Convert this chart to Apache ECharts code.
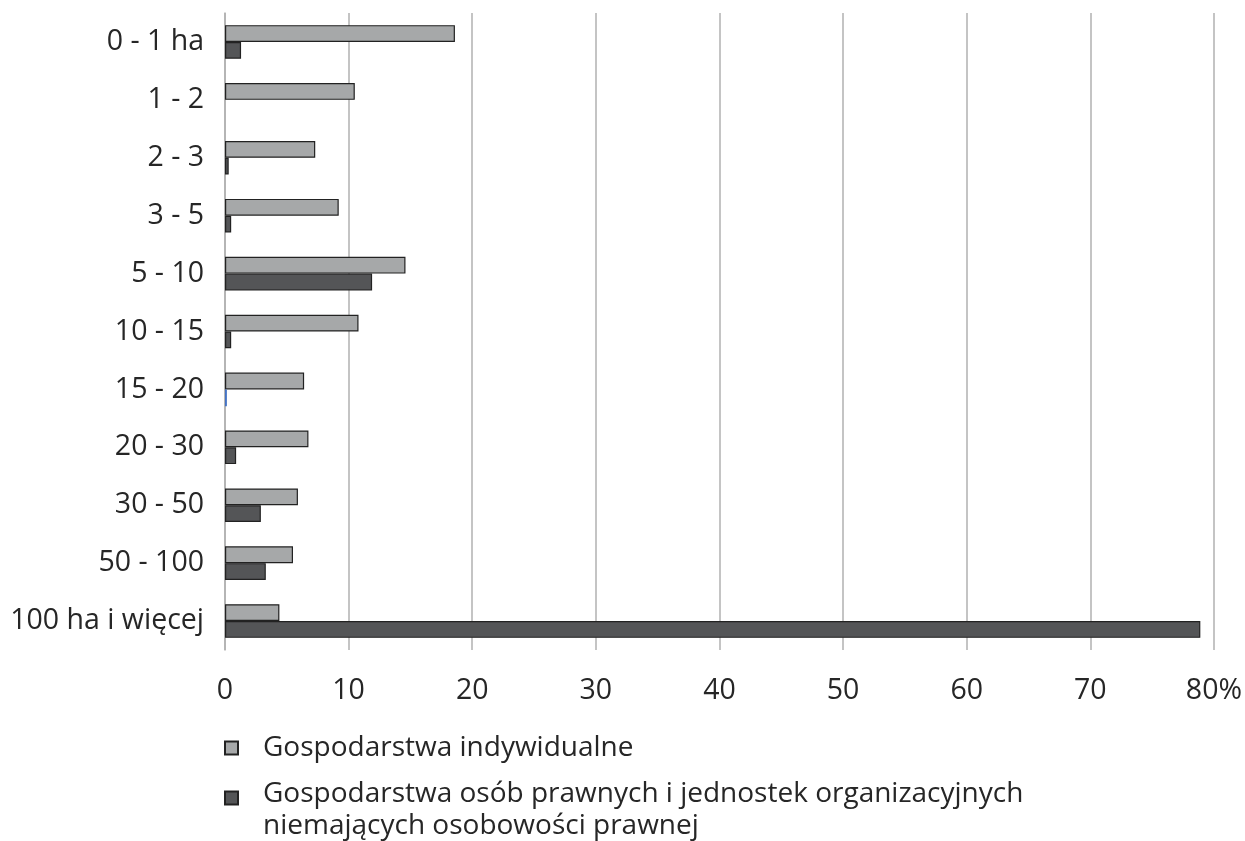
<!DOCTYPE html>
<html><head><meta charset="utf-8">
<script src="https://cdn.jsdelivr.net/npm/echarts@6/dist/echarts.min.js"></script>
<style>html,body{margin:0;padding:0;background:#fff}#c{width:1245px;height:841px}</style>
</head><body><div id="c"></div>
<script>
const categories = ['0 - 1 ha','1 - 2','2 - 3','3 - 5','5 - 10','10 - 15','15 - 20','20 - 30','30 - 50','50 - 100','100 ha i więcej'];
const seriesNames = ['Gospodarstwa indywidualne','Gospodarstwa osób prawnych i jednostek organizacyjnych niemających osobowości prawnej'];
const indywidualne = [18.6,10.5,7.3,9.2,14.6,10.8,6.4,6.75,5.9,5.5,4.4];
const prawne = [1.3,0,0.3,0.5,11.9,0.5,0.15,0.9,2.9,3.3,78.9];
const xTicks = [0,10,20,30,40,50,60,70,80];

const chart = echarts.init(document.getElementById('c'));
const font = 'Open Sans';
const fs = 28.5;
const lfs = 28;
chart.setOption({
  animation:false,
  textStyle:{fontFamily:font},
  grid:{left:225,right:29,top:13,bottom:191,containLabel:false},
  legend:[
    {orient:'vertical', left:219, top:727, itemWidth:13, itemHeight:13, icon:'rect',
     data:[seriesNames[0]],
     textStyle:{fontFamily:font,fontSize:lfs,color:'#262626',lineHeight:32,padding:[0,0,0,20]}},
    {orient:'vertical', left:219, top:749, itemWidth:13, itemHeight:13, icon:'rect',
     data:[seriesNames[1]],
     textStyle:{fontFamily:font,fontSize:lfs,color:'#262626',lineHeight:32,padding:[0,0,0,20],
       rich:{g:{fontSize:1,lineHeight:24},t:{fontFamily:font,fontSize:lfs,color:'#262626',lineHeight:32}}},
     formatter: () => '{g| }\n{t|Gospodarstwa osób prawnych i jednostek organizacyjnych}\n{t|niemających osobowości prawnej}'}
  ],
  xAxis:{type:'value',min:0,max:80,interval:10,
    axisLine:{show:false},axisTick:{show:false},
    splitLine:{lineStyle:{color:'#b0b0b0',width:1.5}},
    axisLabel:{fontSize:fs,color:'#262626',margin:26,formatter:v=> v===80 ? '80%' : String(v)}},
  yAxis:{type:'category',data:categories,inverse:true,
    axisLine:{lineStyle:{color:'#b0b0b0',width:1.5}},axisTick:{show:false},
    axisLabel:{fontSize:fs,color:'#262626',margin:21}},
  series:[
    {name:seriesNames[0],type:'bar',data:indywidualne,barGap:'0%',barCategoryGap:'42%',
     itemStyle:{color:'#a6a8a9',borderColor:'#222',borderWidth:1.2}},
    {name:seriesNames[1],type:'bar',
     data:prawne.map((v,i)=> v===0 ? '-' : (i===6 ? {value:v,itemStyle:{color:'#4472c4',borderColor:'#4472c4'}} : v)),
     itemStyle:{color:'#545557',borderColor:'#222',borderWidth:1.2}}
  ]
});
</script></body></html>
